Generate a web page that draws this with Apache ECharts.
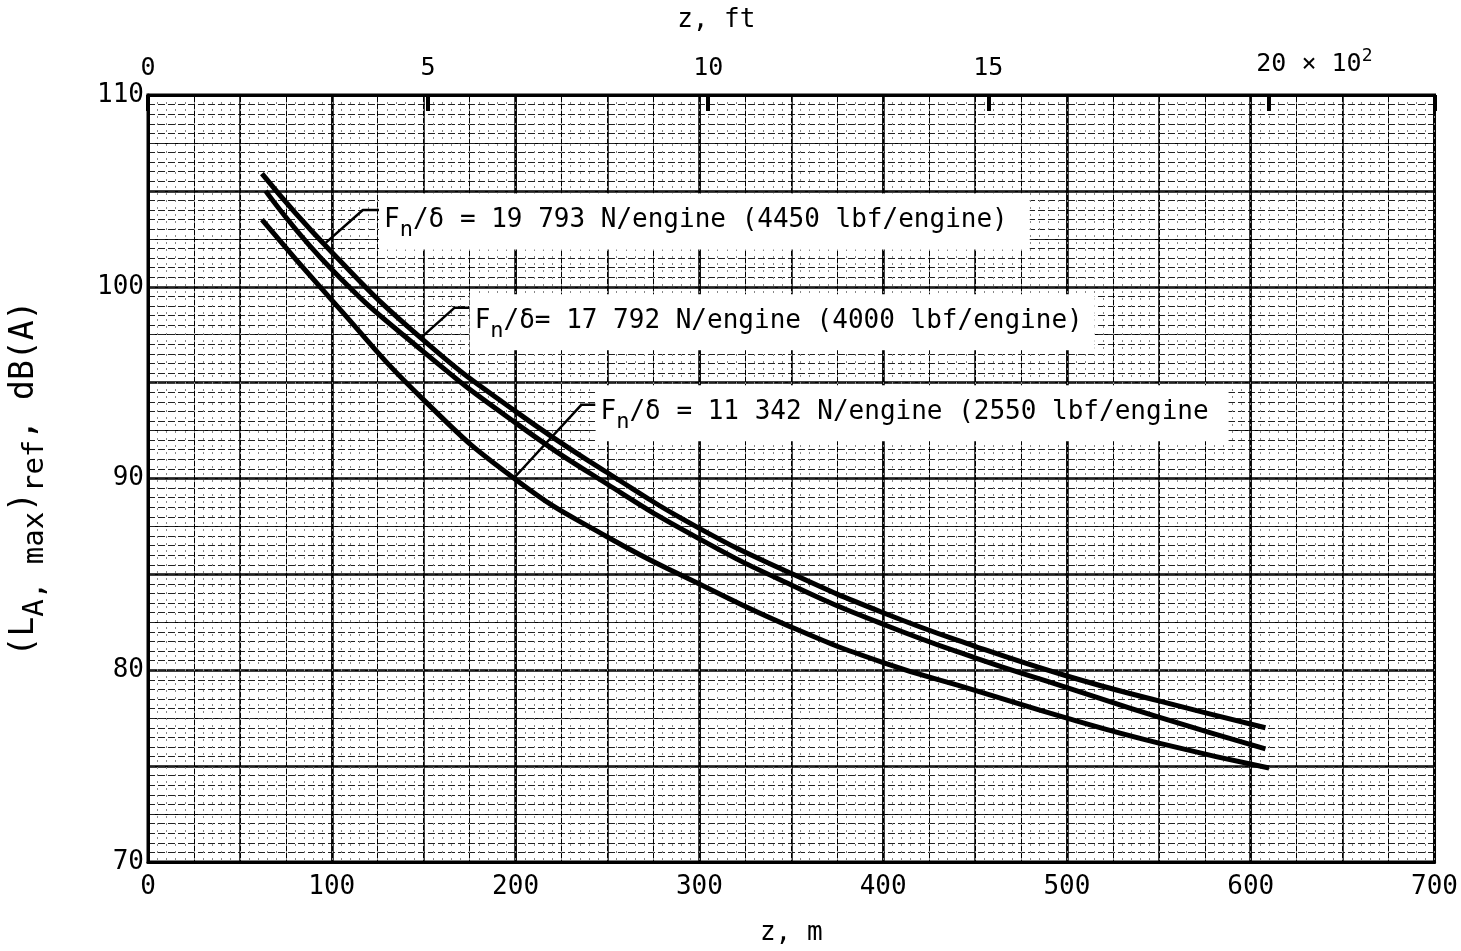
<!DOCTYPE html>
<html>
<head>
<meta charset="utf-8">
<script src="https://cdn.jsdelivr.net/npm/echarts@6/dist/echarts.min.js"></script>
<style>
  html, body { margin: 0; padding: 0; background: #fff; }
  #chart { width: 1461px; height: 951px; }
</style>
</head>
<body>
<div id="chart"></div>
<script>
// curves: z in m, level in dB(A)
const zHigh = [62, 100, 150, 200, 250, 300, 350, 400, 450, 500, 550, 608]
const levelHigh = [105.9, 101.8, 97.2, 93.5, 90.3, 87.4, 85.05, 83.0, 81.25, 79.7, 78.4, 77.0]

const zMid = [64, 100, 150, 200, 250, 300, 350, 400, 450, 500, 550, 608]
const levelMid = [105.0, 100.9, 96.6, 92.9, 89.7, 86.85, 84.45, 82.4, 80.65, 79.1, 77.55, 75.9]

const zLow = [62, 100, 150, 200, 250, 300, 350, 400, 450, 500, 550, 610]
const levelLow = [103.5, 99.3, 94.1, 89.95, 86.95, 84.5, 82.25, 80.4, 78.95, 77.5, 76.2, 74.9]

// top scale in feet (x 10^2)
const ftTicks = [0, 500, 1000, 1500, 2000]
const M_PER_FT = 0.3048

// label texts and where the leaders go (data units)
const labelTexts = [
  'F{sub|n}/δ = 19 793 N/engine (4450 lbf/engine)',
  'F{sub|n}/δ= 17 792 N/engine (4000 lbf/engine)',
  'F{sub|n}/δ = 11 342 N/engine (2550 lbf/engine'
]
const labelAt = [[125.7, 103.4], [175, 98.15], [243.5, 93.4]]
const labelPadRight = [22, 12, 20]
const leaders = [
  [[96.8, 102.3], [116.9, 104.0], [125.7, 104.0]],
  [[148.6, 97.35], [166.7, 98.9], [175, 98.9]],
  [[198.9, 90.0], [235.9, 93.85], [243.5, 93.85]]
]

const FONT = 'DejaVu Sans Mono'

function pair(xs, ys) {
  return xs.map(function (x, i) { return [x, ys[i]] })
}

// helper axes that only draw graph-paper lines
function gridX(step, style) {
  return {
    type: 'value', position: 'bottom', min: 0, max: 700, interval: step,
    axisLine: { show: false }, axisTick: { show: false }, axisLabel: { show: false },
    splitLine: { show: true, lineStyle: style }
  }
}
function gridY(step, style) {
  return {
    type: 'value', position: 'left', min: 70, max: 110, interval: step,
    axisLine: { show: false }, axisTick: { show: false }, axisLabel: { show: false },
    splitLine: { show: true, lineStyle: style }
  }
}

const curveStyle = { color: '#000', width: 5 }

function curve(name, xs, ys) {
  return {
    name: name, type: 'line', smooth: 0.5, symbol: 'none',
    data: pair(xs, ys), lineStyle: curveStyle, z: 5
  }
}

const series = [
  curve('high', zHigh, levelHigh),
  curve('mid', zMid, levelMid),
  curve('low', zLow, levelLow)
]

leaders.forEach(function (pts) {
  series.push({
    type: 'line', symbol: 'none', data: pts, silent: true, z: 6,
    lineStyle: { color: '#000', width: 2.5 }
  })
})

labelTexts.forEach(function (txt, i) {
  series.push({
    type: 'scatter', symbolSize: 0, silent: true, z: 7,
    itemStyle: { opacity: 1 },
    data: [labelAt[i]],
    label: {
      show: true, position: 'right', distance: 0,
      formatter: txt,
      backgroundColor: '#fff',
      opacity: 1,
      padding: [6, labelPadRight[i], 8, 5],
      color: '#000', fontFamily: FONT, fontSize: 26,
      rich: {
        sub: { fontFamily: FONT, fontSize: 22, color: '#000', padding: [20, 0, 0, 0] }
      }
    }
  })
})

const option = {
  backgroundColor: '#fff',
  animation: false,
  textStyle: { fontFamily: FONT, color: '#000' },
  grid: {
    left: 145, right: 21, top: 95, bottom: 81,
    show: true, borderColor: '#000', borderWidth: 3
  },
  xAxis: [
    {
      type: 'value', position: 'bottom', min: 0, max: 700, interval: 100,
      name: 'z, m', nameLocation: 'middle', nameGap: 58,
      nameTextStyle: { fontFamily: FONT, fontSize: 26, color: '#000' },
      axisLine: { show: true, lineStyle: { color: '#000', width: 3 } },
      axisTick: { show: false },
      axisLabel: { fontFamily: FONT, fontSize: 26, color: '#000', margin: 12 },
      splitLine: { show: true, lineStyle: { color: '#000', width: 2.5 } }
    },
    {
      type: 'value', position: 'top', min: 0, max: 700 / M_PER_FT, interval: 500,
      name: 'z, ft', nameLocation: 'middle', nameGap: 62,
      nameTextStyle: { fontFamily: FONT, fontSize: 26, color: '#000', padding: [0, 150, 0, 0] },
      axisLine: { show: true, lineStyle: { color: '#000', width: 3 } },
      axisTick: { show: true, inside: true, length: 16, lineStyle: { color: '#000', width: 4 } },
      axisLabel: {
        fontFamily: FONT, fontSize: 25, color: '#000', margin: 14,
        formatter: function (v) {
          if (ftTicks.indexOf(v) < 0) return ''
          if (v === 2000) return '{sp|}{t|20 × 10}{sup|2}'
          return String(v / 100)
        },
        rich: {
          sp: { width: 92 },
          t: { fontFamily: FONT, fontSize: 25, color: '#000' },
          sup: { fontFamily: FONT, fontSize: 18, color: '#000', padding: [0, 0, 16, 0] }
        }
      },
      splitLine: { show: false }
    },
    gridX(50, { color: '#000', width: 1.5 }),
    gridX(25, { color: '#000', width: 1 }),
    gridX(5, { color: '#888', width: 1, type: [2, 5] })
  ],
  yAxis: [
    {
      type: 'value', position: 'left', min: 70, max: 110, interval: 5,
      name: '(L{sub|A, max}){sub|ref}, dB(A)',
      nameLocation: 'middle', nameGap: 98, nameRotate: 90,
      nameTextStyle: {
        fontFamily: FONT, fontSize: 33, color: '#000',
        rich: { sub: { fontFamily: FONT, fontSize: 29, color: '#000', padding: [22, 0, 0, 0] } }
      },
      axisLine: { show: true, lineStyle: { color: '#000', width: 3 } },
      axisTick: { show: false },
      axisLabel: {
        fontFamily: FONT, fontSize: 26, color: '#000', margin: 4,
        formatter: function (v) { return v % 10 === 0 ? String(v) : '' }
      },
      splitLine: { show: true, lineStyle: { color: '#000', width: 2.5 } }
    },
    gridY(2.5, { color: '#000', width: 1.2 }),
    gridY(0.5, { color: '#222', width: 1, type: [7, 3] })
  ],
  series: series
}

const chart = echarts.init(document.getElementById('chart'))
chart.setOption(option)
</script>
</body>
</html>
